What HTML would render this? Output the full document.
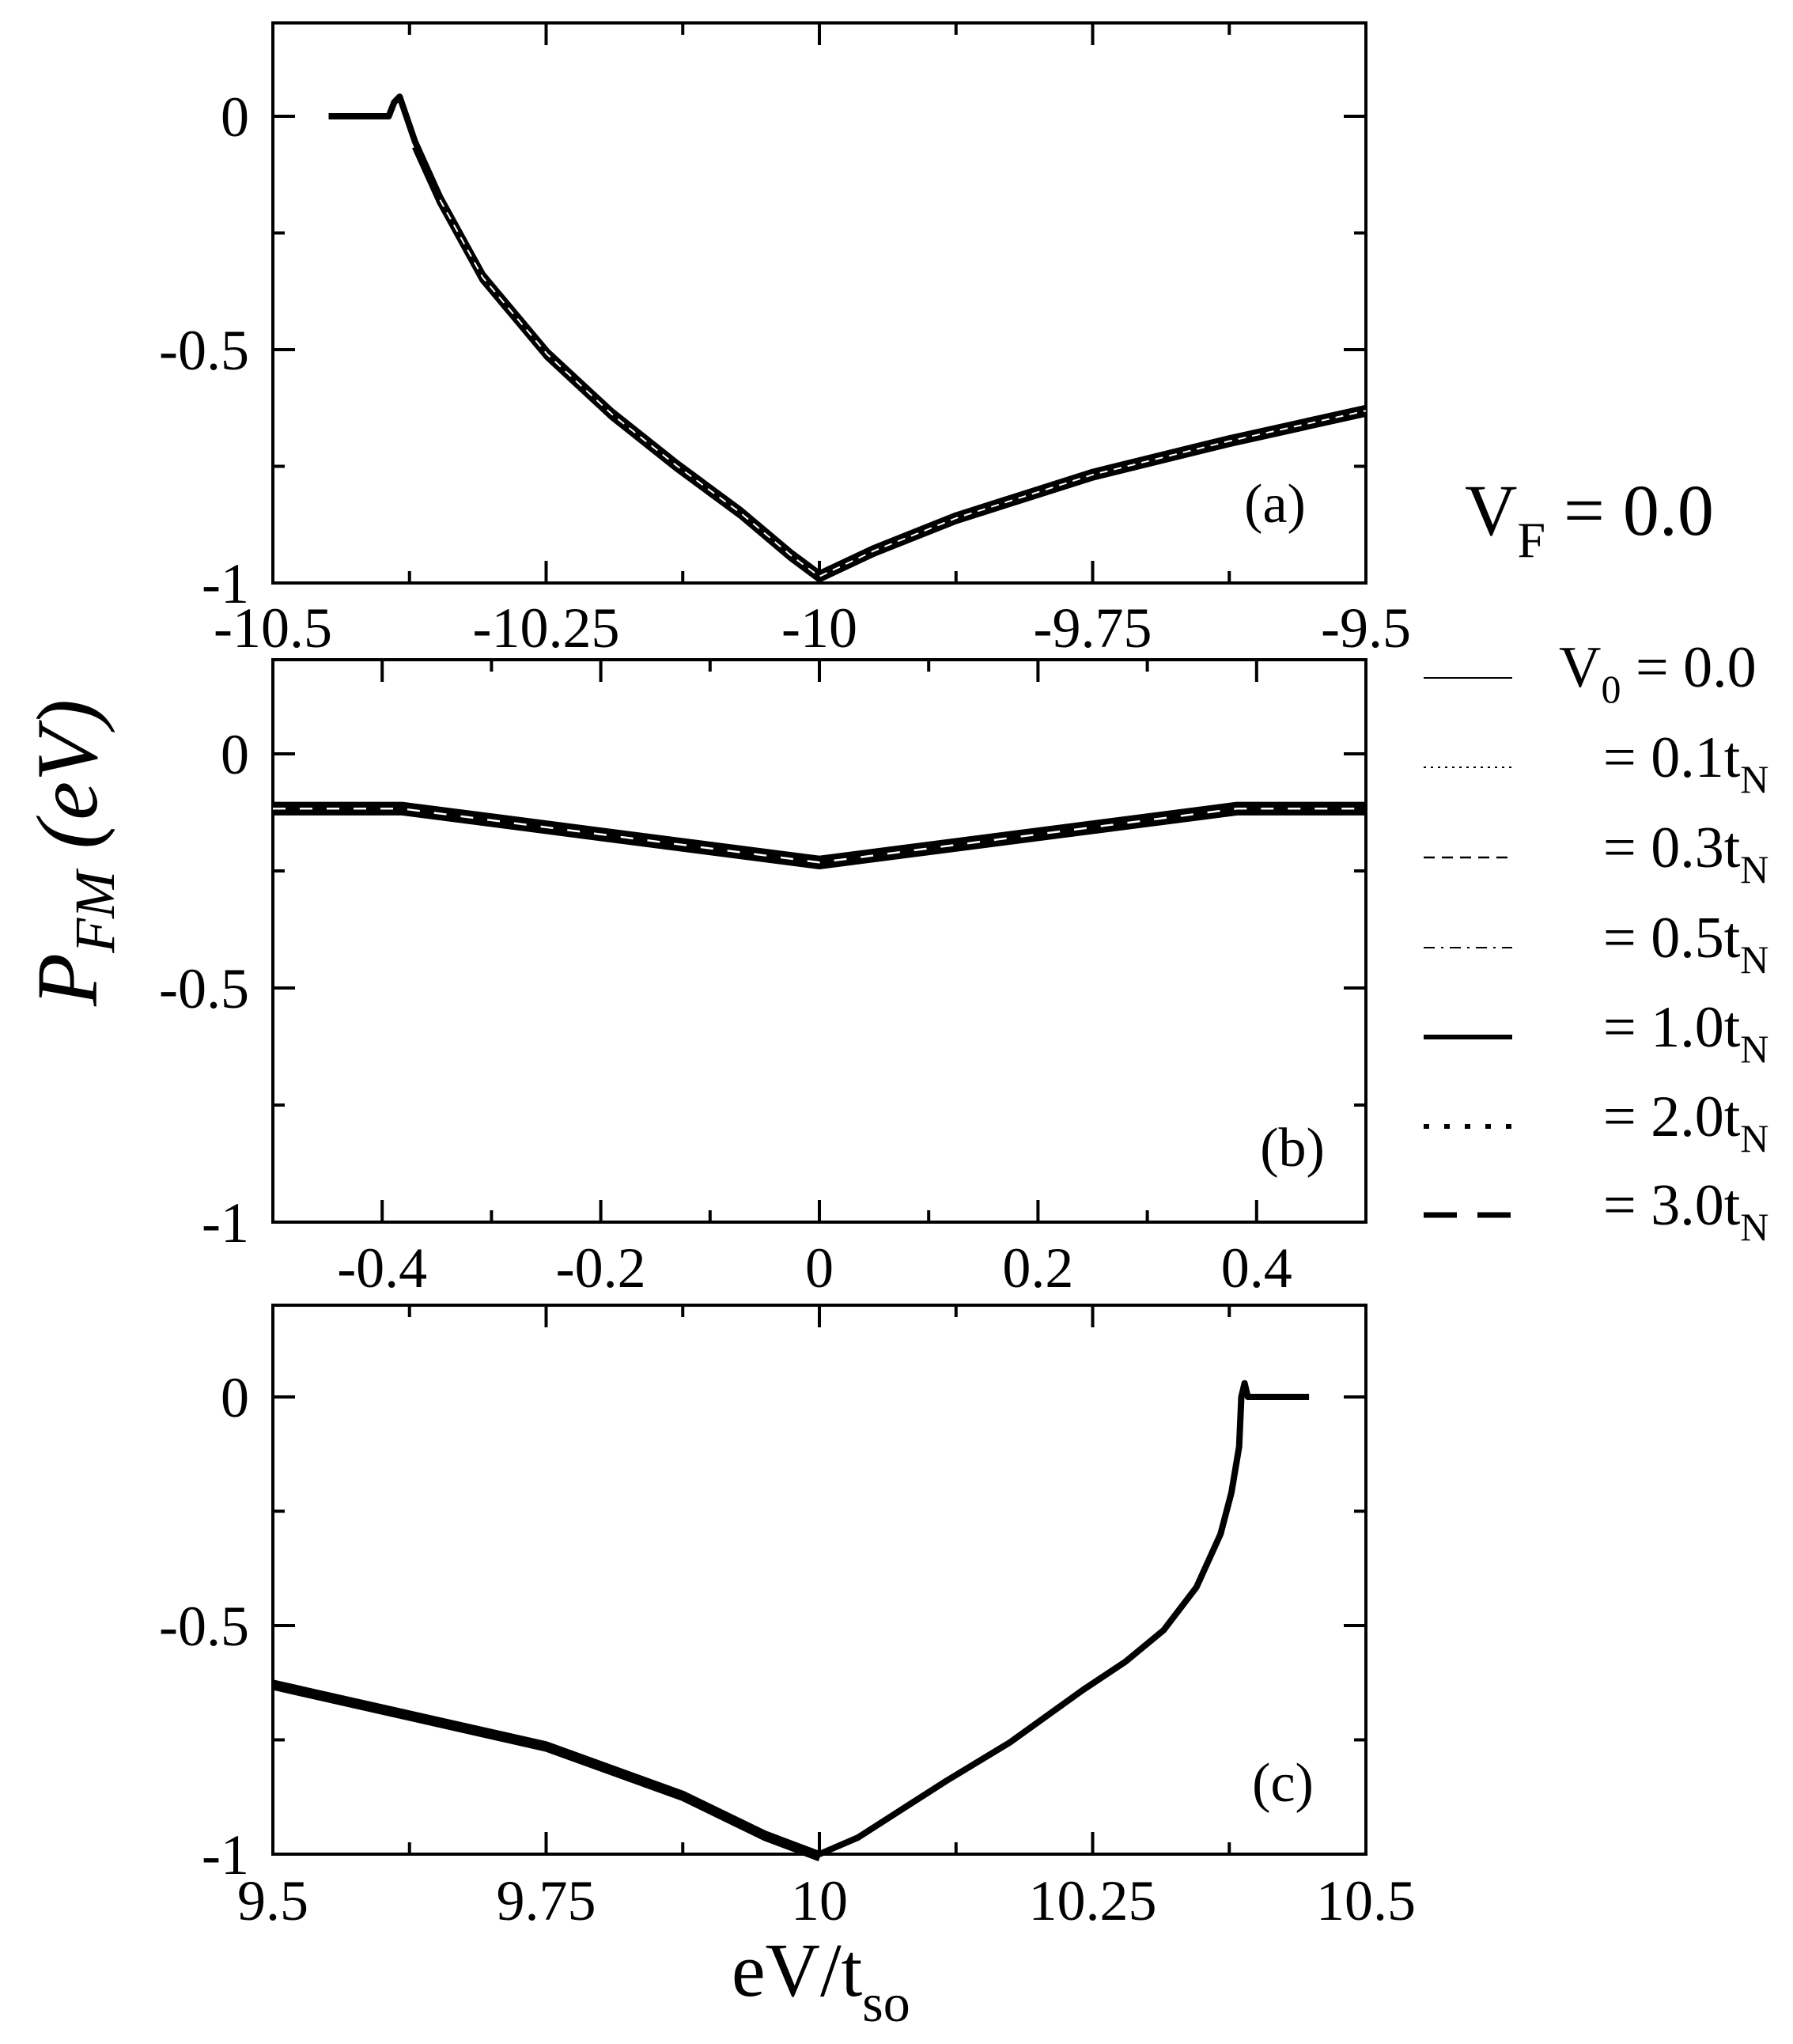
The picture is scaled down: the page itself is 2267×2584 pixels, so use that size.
<!DOCTYPE html>
<html><head><meta charset="utf-8">
<style>
html,body{margin:0;padding:0;background:#fff;}
svg{display:block;}
text{font-family:"Liberation Serif","DejaVu Serif",serif;fill:#000;}
</style></head>
<body>
<svg id="s" xmlns="http://www.w3.org/2000/svg" width="2267" height="2584" viewBox="0 0 2267 2584">
<rect width="2267" height="2584" fill="#fff"/>
<g id="g"></g>
<text x="925" y="2523" font-size="96">eV/t<tspan font-size="68" dy="32">so</tspan></text>
<text transform="translate(122,1272) rotate(-90)" font-size="110" font-style="italic">P<tspan font-size="72" dy="22">FM</tspan><tspan dy="-22"> (</tspan>eV<tspan>)</tspan></text>
<text x="1852" y="676" font-size="92">V<tspan font-size="64" dy="28">F</tspan><tspan dy="-28"> = 0.0</tspan></text>
</svg>
<script>
var NS="http://www.w3.org/2000/svg",G=document.getElementById('g');
function el(t,a,txt){var e=document.createElementNS(NS,t);for(var k in a)e.setAttribute(k,a[k]);if(txt!==undefined)e.textContent=txt;G.appendChild(e);return e;}
var X0=345,X1=1727;
var panels=[
 {top:29,zero:147,m1:737,xmin:-10.5,xmax:-9.5,maj:0.25,min:0.125,labels:["-10.5","-10.25","-10","-9.75","-9.5"],lb:818,tag:"(a)",tx:1612,ty:660},
 {top:834,zero:953,m1:1545,xmin:-0.5,xmax:0.5,maj:0.2,min:0.1,labels:["-0.4","-0.2","0","0.2","0.4"],lb:1627,tag:"(b)",tx:1634,ty:1474,offset:0.1},
 {top:1650,zero:1766,m1:2344,xmin:9.5,xmax:10.5,maj:0.25,min:0.125,labels:["9.5","9.75","10","10.25","10.5"],lb:2427,tag:"(c)",tx:1622,ty:2277}
];
panels.forEach(function(p){
 var sy=(p.m1-p.zero);
 function X(v){return X0+(v-p.xmin)/(p.xmax-p.xmin)*(X1-X0);}
 function Y(v){return p.zero-v*sy;}
 el('rect',{x:X0,y:p.top,width:X1-X0,height:p.m1-p.top,fill:'none',stroke:'#000','stroke-width':4});
 var n=Math.round((p.xmax-p.xmin)/p.min);
 var start=p.xmin;
 if(p.offset){start=p.xmin+0.1;n=9;}
 for(var i=0;i<=n;i++){
  var v=start+i*p.min;var x=X(v);
  var isMaj=(i%2==0);
  var L=isMaj?28:15;
  el('line',{x1:x,y1:p.m1,x2:x,y2:p.m1-L,stroke:'#000','stroke-width':4});
  el('line',{x1:x,y1:p.top,x2:x,y2:p.top+L,stroke:'#000','stroke-width':4});
 }
 var lv;
 if(p.offset) lv=[-0.4,-0.2,0,0.2,0.4]; else lv=[0,1,2,3,4].map(function(k){return p.xmin+k*0.25;});
 lv.forEach(function(v,k){el('text',{x:X(v),y:p.lb,'font-size':72,'text-anchor':'middle'},p.labels[k]);});
 [0,-0.25,-0.5,-0.75,-1].forEach(function(v,k){
  var y=Y(v);var L=(k%2==0)?28:15;
  el('line',{x1:X0,y1:y,x2:X0+L,y2:y,stroke:'#000','stroke-width':4});
  el('line',{x1:X1,y1:y,x2:X1-L,y2:y,stroke:'#000','stroke-width':4});
 });
 [["0",0],["-0.5",-0.5],["-1",-1]].forEach(function(a){
  el('text',{x:315,y:Y(a[1])+25,'font-size':72,'text-anchor':'end'},a[0]);
 });
 el('text',{x:p.tx,y:p.ty,'font-size':70,'text-anchor':'middle'},p.tag);
 p.X=X;p.Y=Y;
});
function line(p,pts,w,dy,extra){
 var d=pts.map(function(q,i){return (i?'L':'M')+p.X(q[0]).toFixed(1)+' '+(p.Y(q[1]+(dy||0))).toFixed(1);}).join(' ');
 var a={d:d,fill:'none',stroke:'#000','stroke-width':w,'stroke-linejoin':'round'};
 if(extra)for(var k in extra)a[k]=extra[k];
 el('path',a);
}
var A=[[-10.449,0],[-10.394,0],[-10.389,0.03],[-10.384,0.042],[-10.370,-0.054],[-10.347,-0.173],[-10.308,-0.339],[-10.249,-0.504],[-10.190,-0.632],[-10.131,-0.742],[-10.072,-0.844],[-10.026,-0.935],[-10.0,-0.98],[-9.95,-0.925],[-9.875,-0.855],[-9.75,-0.762],[-9.625,-0.69],[-9.5,-0.625]];
line(panels[0],A,8,0);
line(panels[0],A.slice(4),8,-0.012);
line(panels[0],A.slice(5),2,-0.006,{stroke:'#fff','stroke-dasharray':'10 8'});
var B=[[-0.5,-0.11],[-0.382,-0.11],[0,-0.225],[0.382,-0.11],[0.5,-0.11]];
line(panels[1],B,9,0);
line(panels[1],B,9,-0.014);
line(panels[1],B,2.5,-0.007,{stroke:'#fff','stroke-dasharray':'16 18'});
var C=[[9.5,-0.625],[9.75,-0.76],[9.875,-0.868],[9.95,-0.955],[10.0,-1.0],[10.035,-0.964],[10.116,-0.84],[10.174,-0.756],[10.241,-0.641],[10.280,-0.579],[10.315,-0.51],[10.345,-0.416],[10.367,-0.30],[10.377,-0.209],[10.384,-0.109],[10.386,0.0],[10.389,0.03],[10.392,0.0],[10.448,0.0]];
line(panels[2],C,8,0);
line(panels[2],C.slice(0,5),7,-0.01);
var ly=[857,970,1084,1198,1311,1424,1536];
var st=[{w:2},{w:2,da:'3 6'},{w:2.5,da:'14 9'},{w:2,da:'14 8 3 8'},{w:6},{w:6,da:'7 19'},{w:7,da:'42 26'}];
ly.forEach(function(y,i){
 var a={x1:1800,y1:y,x2:1912,y2:y,stroke:'#000','stroke-width':st[i].w};
 if(st[i].da)a['stroke-dasharray']=st[i].da;
 el('line',a);
});
var t0=el('text',{x:1971,y:868,'font-size':74});
t0.innerHTML='V<tspan font-size="50" dy="20">0</tspan><tspan dy="-20"> = 0.0</tspan>';
var vals=["0.1","0.3","0.5","1.0","2.0","3.0"];
vals.forEach(function(v,i){
 var t=el('text',{x:2027,y:ly[i+1]+12,'font-size':74});
 t.innerHTML='= '+v+'t<tspan font-size="50" dy="20">N</tspan>';
});
</script>
</body></html>
